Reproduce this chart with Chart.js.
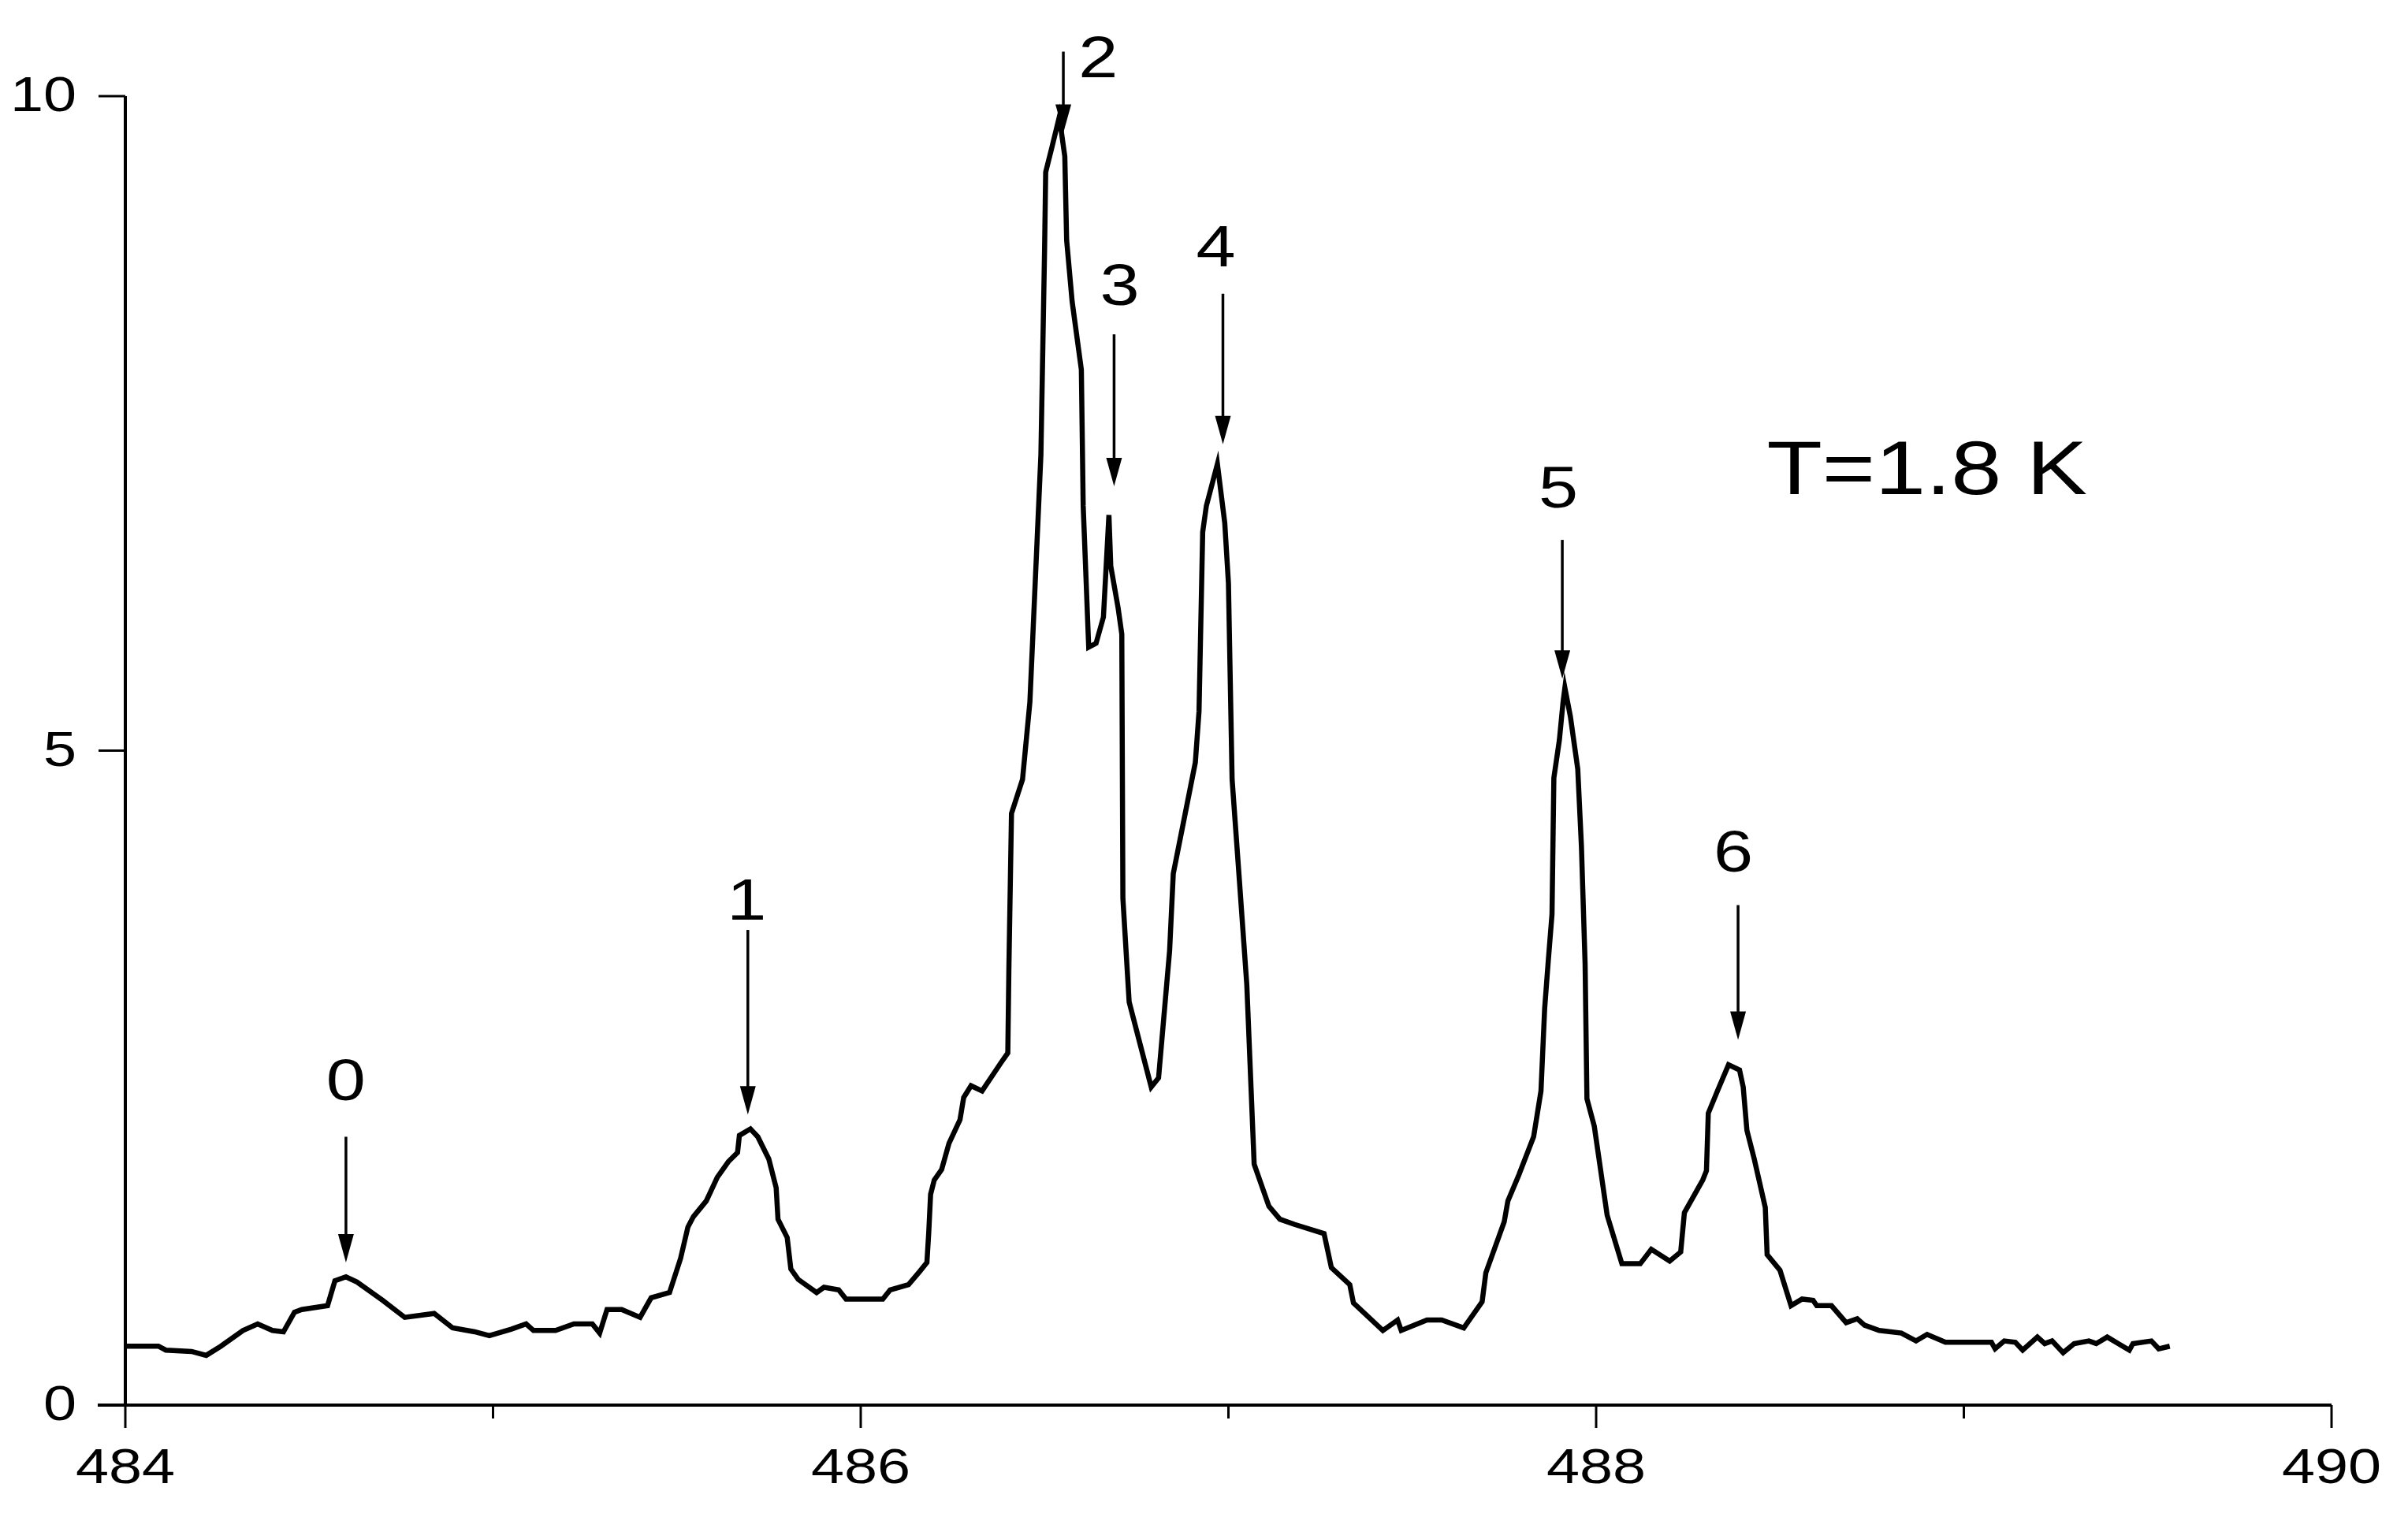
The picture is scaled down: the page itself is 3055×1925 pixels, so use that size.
<!DOCTYPE html>
<html>
<head>
<meta charset="utf-8">
<script src="https://cdn.jsdelivr.net/npm/chart.js@4.4.1/dist/chart.umd.min.js"></script>
<style>
  html, body { margin: 0; padding: 0; background: #fff; }
  #spectrum { display: block; }
</style>
</head>
<body>
<canvas id="spectrum" width="3055" height="1925"></canvas>
<script>
// wavelength (nm) and intensity
const waveXs = [
  484.00, 484.09, 484.11, 484.18, 484.22, 484.26, 484.32, 484.36, 484.40, 484.43,
  484.46, 484.48, 484.55, 484.57, 484.60, 484.63, 484.70, 484.76, 484.84, 484.89,
  484.95, 484.99, 485.05, 485.09, 485.11, 485.17, 485.22, 485.27, 485.29, 485.31,
  485.35, 485.40, 485.43, 485.48, 485.51, 485.53, 485.545, 485.58, 485.61, 485.64,
  485.665, 485.67, 485.70, 485.72, 485.75, 485.77, 485.775, 485.80, 485.81, 485.83,
  485.88, 485.90, 485.94, 485.96, 486.06, 486.08, 486.13, 486.16, 486.18, 486.185,
  486.19, 486.20, 486.22, 486.24, 486.27, 486.28, 486.30, 486.33, 486.38, 486.40,
  486.403, 486.41, 486.44, 486.46, 486.49, 486.50, 486.503, 486.52, 486.54, 486.555,
  486.56, 486.575, 486.60, 486.605, 486.62, 486.64, 486.66, 486.675, 486.68, 486.70,
  486.71, 486.713, 486.73, 486.79, 486.81, 486.84, 486.85, 486.91, 486.92, 486.93,
  486.94, 486.97, 486.99, 487.00, 487.01, 487.03, 487.05, 487.07, 487.11, 487.14,
  487.18, 487.26, 487.28, 487.33, 487.34, 487.42, 487.46, 487.47, 487.54, 487.58,
  487.64, 487.69, 487.70, 487.75, 487.76, 487.79, 487.83, 487.85, 487.86, 487.87,
  487.88, 487.885, 487.90, 487.91, 487.915, 487.93, 487.95, 487.96, 487.97, 487.975,
  487.995, 488.03, 488.07, 488.12, 488.15, 488.20, 488.23, 488.24, 488.29, 488.30,
  488.305, 488.33, 488.36, 488.39, 488.40, 488.41, 488.43, 488.46, 488.465, 488.50,
  488.53, 488.56, 488.59, 488.60, 488.64, 488.68, 488.71, 488.73, 488.77, 488.83,
  488.87, 488.90, 488.95, 489.075, 489.085, 489.11, 489.14, 489.16, 489.20, 489.22,
  489.24, 489.27, 489.30, 489.34, 489.36, 489.39, 489.42, 489.45, 489.46, 489.51,
  489.53, 489.56
];
const signalYs = [
  0.45, 0.45, 0.42, 0.41, 0.38, 0.45, 0.57, 0.62, 0.57, 0.56,
  0.71, 0.73, 0.76, 0.95, 0.98, 0.94, 0.80, 0.67, 0.70, 0.59,
  0.56, 0.53, 0.58, 0.62, 0.57, 0.57, 0.62, 0.62, 0.55, 0.73,
  0.73, 0.67, 0.82, 0.86, 1.12, 1.36, 1.44, 1.56, 1.74, 1.86,
  1.93, 2.06, 2.11, 2.05, 1.88, 1.66, 1.42, 1.28, 1.04, 0.96,
  0.86, 0.90, 0.88, 0.81, 0.81, 0.88, 0.92, 1.02, 1.09, 1.32,
  1.61, 1.72, 1.80, 2.00, 2.18, 2.35, 2.44, 2.40, 2.61, 2.69,
  3.35, 4.52, 4.78, 5.37, 7.26, 8.83, 9.42, 9.61, 9.84, 9.54,
  8.90, 8.43, 7.91, 6.87, 5.79, 5.82, 6.02, 6.80, 6.41, 6.09,
  5.89, 3.87, 3.08, 2.43, 2.50, 3.47, 4.06, 4.91, 5.30, 6.67,
  6.87, 7.19, 6.74, 6.28, 4.78, 4.00, 3.21, 1.84, 1.52, 1.42,
  1.38, 1.31, 1.05, 0.92, 0.78, 0.57, 0.65, 0.57, 0.65, 0.65,
  0.59, 0.79, 1.01, 1.40, 1.56, 1.76, 2.05, 2.40, 3.03, 3.40,
  3.75, 4.79, 5.08, 5.37, 5.48, 5.26, 4.86, 4.27, 3.37, 2.34,
  2.13, 1.45, 1.08, 1.08, 1.19, 1.10, 1.17, 1.47, 1.72, 1.79,
  2.23, 2.40, 2.60, 2.56, 2.43, 2.10, 1.88, 1.51, 1.15, 1.03,
  0.76, 0.81, 0.80, 0.76, 0.76, 0.63, 0.66, 0.61, 0.57, 0.55,
  0.49, 0.54, 0.48, 0.48, 0.43, 0.49, 0.48, 0.42, 0.52, 0.47,
  0.49, 0.40, 0.47, 0.49, 0.47, 0.52, 0.47, 0.42, 0.47, 0.49,
  0.43, 0.45
];

// axis ticks
const xMajorTicks = [484, 486, 488, 490];
const xMinorTicks = [485, 487, 489];
const yTicks = [0, 5, 10];

// peak markers: name, arrow x, arrow top, arrow tip, label centre
const peakNames = ['0', '1', '2', '3', '4', '5', '6'];
const peakXs = [484.60, 485.693, 486.551, 486.689, 486.985, 487.908, 488.386];
const arrowTops = [2.05, 3.63, 10.34, 8.18, 8.49, 6.61, 3.82];
const arrowTips = [1.09, 2.22, 9.72, 7.02, 7.34, 5.55, 2.79];
const labelXs = [484.60, 485.69, 486.646, 486.704, 486.966, 487.897, 488.373];
const labelYs = [2.49, 3.87, 10.31, 8.57, 8.86, 7.02, 4.24];

const tempText = 'T=1.8 K';
const tempX = 488.464;
const tempY = 6.96;

const FONT = '"Liberation Sans", Arial, sans-serif';
const STRETCH = 1.2;

function stretchedText(ctx, text, x, y, size, align) {
    ctx.save();
    ctx.translate(x, y);
    ctx.scale(STRETCH, 1);
    ctx.font = size + 'px ' + FONT;
    ctx.textAlign = align;
    ctx.textBaseline = 'alphabetic';
    ctx.fillStyle = '#000';
    ctx.fillText(text, 0, 0);
    ctx.restore();
}

const axesPlugin = {
    id: 'hand-axes',
    afterDraw(chart) {
        const ctx = chart.ctx;
        const xs = chart.scales.x;
        const ys = chart.scales.y;
        const area = chart.chartArea;
        ctx.save();
        ctx.strokeStyle = '#000';
        ctx.lineCap = 'butt';

        // y axis
        ctx.lineWidth = 4;
        ctx.beginPath();
        ctx.moveTo(area.left, ys.getPixelForValue(10));
        ctx.lineTo(area.left, area.bottom);
        ctx.stroke();
        // x axis
        ctx.beginPath();
        ctx.moveTo(area.left - 35, area.bottom);
        ctx.lineTo(xs.getPixelForValue(490), area.bottom);
        ctx.stroke();

        ctx.lineWidth = 3;
        yTicks.forEach(v => {
            const py = ys.getPixelForValue(v);
            ctx.beginPath();
            ctx.moveTo(area.left - 34, py);
            ctx.lineTo(area.left, py);
            ctx.stroke();
            stretchedText(ctx, String(v), 97, py + 19, 63, 'right');
        });
        xMajorTicks.forEach(v => {
            const px = xs.getPixelForValue(v);
            ctx.beginPath();
            ctx.moveTo(px, area.bottom);
            ctx.lineTo(px, area.bottom + 29);
            ctx.stroke();
            stretchedText(ctx, String(v), px, area.bottom + 99, 63, 'center');
        });
        xMinorTicks.forEach(v => {
            const px = xs.getPixelForValue(v);
            ctx.beginPath();
            ctx.moveTo(px, area.bottom);
            ctx.lineTo(px, area.bottom + 17);
            ctx.stroke();
        });

        // peak arrows and numbers
        ctx.lineWidth = 3.5;
        ctx.fillStyle = '#000';
        peakNames.forEach((name, i) => {
            const px = xs.getPixelForValue(peakXs[i]);
            const top = ys.getPixelForValue(arrowTops[i]);
            const tip = ys.getPixelForValue(arrowTips[i]);
            ctx.beginPath();
            ctx.moveTo(px, top);
            ctx.lineTo(px, tip - 20);
            ctx.stroke();
            ctx.beginPath();
            ctx.moveTo(px, tip);
            ctx.lineTo(px - 10, tip - 36);
            ctx.lineTo(px + 10, tip - 36);
            ctx.closePath();
            ctx.fill();
            const lx = xs.getPixelForValue(labelXs[i]);
            const ly = ys.getPixelForValue(labelYs[i]);
            stretchedText(ctx, name, lx, ly + 27, 75, 'center');
        });

        stretchedText(ctx, tempText, xs.getPixelForValue(tempX), ys.getPixelForValue(tempY), 96, 'left');
        ctx.restore();
    }
};

const points = waveXs.map((x, i) => ({ x: x, y: signalYs[i] }));

const ctx = document.getElementById('spectrum').getContext('2d');
new Chart(ctx, {
    type: 'line',
    data: {
        datasets: [{
            data: points,
            borderColor: '#000',
            borderWidth: 6.5,
            pointRadius: 0,
            tension: 0,
            fill: false
        }]
    },
    options: {
        responsive: false,
        animation: false,
        devicePixelRatio: 1,
        layout: { padding: { left: 159, right: 97, top: 122, bottom: 142 } },
        plugins: { legend: { display: false }, tooltip: { enabled: false } },
        scales: {
            x: { type: 'linear', min: 484, max: 490, display: false },
            y: { type: 'linear', min: 0, max: 10, display: false }
        }
    },
    plugins: [axesPlugin]
});
</script>
</body>
</html>
